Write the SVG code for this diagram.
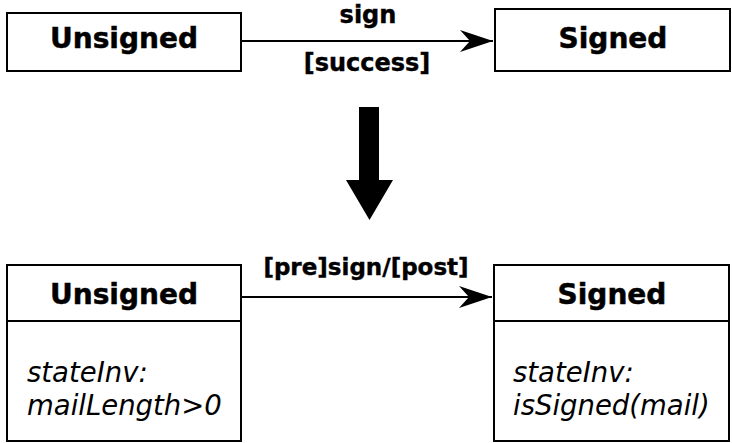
<svg xmlns="http://www.w3.org/2000/svg" width="732" height="443" viewBox="0 0 732 443">
  <style>
    .box { fill: #ffffff; stroke: #000000; stroke-width: 2; }
    .line { fill: none; stroke: #000000; stroke-width: 2; }
    .name { font-family: "DejaVu Sans", sans-serif; font-weight: bold; font-size: 28px; fill: #000000; stroke: #000000; stroke-width: 0.5; text-anchor: middle; }
    .lbl { font-family: "DejaVu Sans", sans-serif; font-weight: bold; font-size: 24px; fill: #000000; stroke: #000000; stroke-width: 0.4; text-anchor: middle; }
    .inv { font-family: "DejaVu Sans", sans-serif; font-style: italic; font-size: 27.5px; fill: #000000; }
  </style>
  <defs>
    <marker id="head" markerUnits="userSpaceOnUse" markerWidth="36" markerHeight="24" refX="33" refY="11" orient="auto">
      <path d="M0,0 L33,11 L0,22 L10,11 Z" fill="#000000"/>
    </marker>
  </defs>

  <!-- simple state machine -->
  <g id="unsigned-simple">
    <rect class="box" x="7" y="13" width="234" height="58"/>
    <text class="name" x="124" y="48">Unsigned</text>
  </g>
  <g id="signed-simple">
    <rect class="box" x="495" y="9" width="235" height="62"/>
    <text class="name" x="613" y="48">Signed</text>
  </g>

  <!-- refinement arrow -->
  <g id="refines">
    <polygon points="359,107 379,107 379,180 393,180 369.5,220 346,180 359,180" fill="#000000"/>
  </g>

  <!-- refined state machine -->
  <g id="unsigned-refined">
    <rect class="box" x="7" y="265" width="234" height="176"/>
    <line class="line" x1="7" y1="321" x2="241" y2="321"/>
    <text class="name" x="124" y="304">Unsigned</text>
    <text class="inv" x="27" y="382">stateInv:</text>
    <text class="inv" x="27" y="415">mailLength&gt;0</text>
  </g>
  <g id="signed-refined">
    <rect class="box" x="494" y="265" width="235" height="176"/>
    <line class="line" x1="494" y1="321" x2="729" y2="321"/>
    <text class="name" x="612" y="304">Signed</text>
    <text class="inv" x="513" y="382">stateInv:</text>
    <text class="inv" x="513" y="415">isSigned(mail)</text>
  </g>

  <g id="connectors">
    <line class="line" x1="242" y1="41" x2="493" y2="41" marker-end="url(#head)"/>
    <text class="lbl" x="368" y="23">sign</text>
    <text class="lbl" x="367" y="71">[success]</text>
    <line class="line" x1="242" y1="297" x2="492" y2="297" marker-end="url(#head)"/>
    <text class="lbl" x="366" y="275" style="font-size:23px">[pre]sign/[post]</text>
  </g>
</svg>
